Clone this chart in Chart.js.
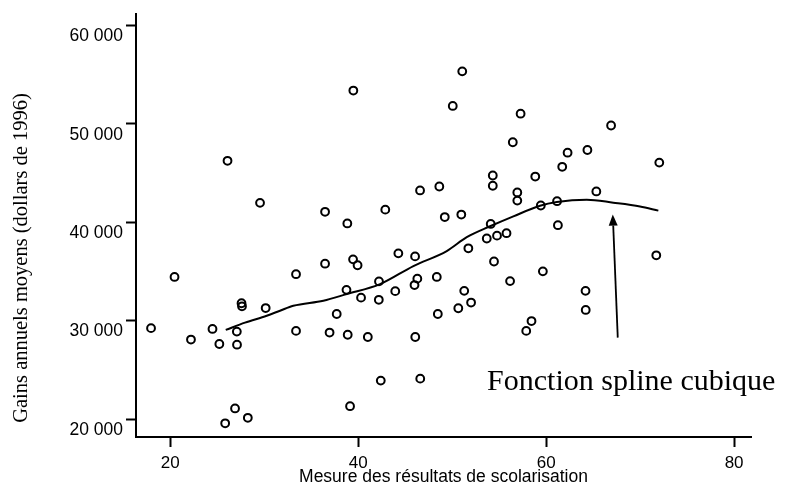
<!DOCTYPE html>
<html>
<head>
<meta charset="utf-8">
<script src="https://cdn.jsdelivr.net/npm/chart.js@4.4.1/dist/chart.umd.min.js"></script>
<style>
html,body{margin:0;padding:0;background:#fff;}
#wrap{width:785px;height:489px;}
</style>
</head>
<body>
<div id="wrap"><canvas id="c" width="785" height="489"></canvas></div>
<script>
// ---- data ----
const schooling = [17.95,20.45,22.2,24.49,25.22,27.08,27.1,27.58,27.63,30.15,
  33.38,33.38,36.47,36.95,25.84,26.89,28.25,26.09,29.55,36.47,
  39.48,51.07,50.06,38.84,42.88,46.58,48.63,49.21,50.97,54.32,
  54.32,54.10,53.68,54.77,55.78,56.45,57.28,66.91,62.28,64.39,
  61.71,58.84,72.04,56.93,56.93,65.34,59.43,61.16,61.25,51.72,
  39.45,39.93,44.27,46.05,54.45,56.16,38.75,42.21,40.30,42.19,
  43.94,46.29,45.99,48.36,51.28,52.01,50.65,48.47,37.71,38.88,
  41.02,46.07,42.40,46.60,39.13,59.65,64.19,64.21,58.44,57.88,71.72];
const earnings = [29240,34440,28080,29160,27630,28890,27560,31770,31460,31280,
  34720,28960,35790,28790,19570,21080,20130,46240,41970,41060,
  53380,55330,51820,39880,41280,43230,43630,40530,40780,44750,
  43710,39830,38350,38640,38890,48130,51030,49830,47070,47340,
  45630,44640,46060,43030,42200,43130,41700,42140,39700,37350,
  36230,35630,36840,36530,36010,34020,33130,33990,32340,32120,
  33000,34270,33620,34440,33030,31840,31260,30680,30680,28570,
  28340,28340,23910,24110,21310,35010,33030,31090,29960,28960,36640];
const splineX = [25.9,27.95,30.26,31.68,33.09,36.29,38.78,42.32,45.87,49.42,
  51.55,54.03,56.51,59.35,61.13,64.32,67.15,69.99,71.94];
const splineY = [29060,29800,30500,31010,31510,32020,32700,33710,35550,37070,
  38480,39590,40600,41670,42050,42290,41990,41610,41180];
const xTickValues = [20,40,60,80];
const yTickValues = [20000,30000,40000,50000,60000];
const yTickLabels = ['20 000','30 000','40 000','50 000','60 000'];
const xAxisTitle = 'Mesure des résultats de scolarisation';
const yAxisTitle = 'Gains annuels moyens (dollars de 1996)';
const annotationText = 'Fonction spline cubique';
const arrowFrom = [67.62, 28280];
const arrowTo = [67.09, 40780];
const annotationAnchor = [53.71, 22930];

const SANS = '"Liberation Sans", Arial, sans-serif';
const SERIF = '"Liberation Serif", "Times New Roman", serif';

const annot = {
  id: 'annot',
  afterDraw(chart) {
    const ctx = chart.ctx;
    const xs = chart.scales.x, ys = chart.scales.y;
    ctx.save();
    // arrow
    const x1 = xs.getPixelForValue(arrowFrom[0]), y1 = ys.getPixelForValue(arrowFrom[1]);
    const x2 = xs.getPixelForValue(arrowTo[0]), y2 = ys.getPixelForValue(arrowTo[1]);
    const ang = Math.atan2(y2 - y1, x2 - x1);
    const headLen = 11, headW = 4.5;
    const bx = x2 - headLen * Math.cos(ang), by = y2 - headLen * Math.sin(ang);
    ctx.strokeStyle = '#000';
    ctx.lineWidth = 1.8;
    ctx.beginPath(); ctx.moveTo(x1, y1); ctx.lineTo(bx, by); ctx.stroke();
    ctx.beginPath();
    ctx.moveTo(x2, y2);
    ctx.lineTo(bx + headW * Math.sin(ang), by - headW * Math.cos(ang));
    ctx.lineTo(bx - headW * Math.sin(ang), by + headW * Math.cos(ang));
    ctx.closePath();
    ctx.fillStyle = '#000';
    ctx.fill();
    // annotation text
    ctx.font = '30px ' + SERIF;
    ctx.textAlign = 'left';
    ctx.textBaseline = 'alphabetic';
    ctx.fillText(annotationText, xs.getPixelForValue(annotationAnchor[0]), ys.getPixelForValue(annotationAnchor[1]));
    // y axis title
    ctx.translate(26.5, 258);
    ctx.rotate(-Math.PI / 2);
    ctx.font = '20.5px ' + SERIF;
    ctx.textAlign = 'center';
    ctx.fillText(yAxisTitle, 0, 0);
    ctx.restore();
  }
};

new Chart(document.getElementById('c'), {
  type: 'scatter',
  data: {
    datasets: [
      {
        type: 'line',
        data: splineX.map((v, i) => ({x: v, y: splineY[i]})),
        borderColor: '#000',
        borderWidth: 2,
        pointRadius: 0,
        fill: false,
        cubicInterpolationMode: 'monotone'
      },
      {
        type: 'scatter',
        data: schooling.map((v, i) => ({x: v, y: earnings[i]})),
        pointStyle: 'circle',
        pointRadius: 3.9,
        borderColor: '#000',
        borderWidth: 2,
        backgroundColor: 'rgba(0,0,0,0)'
      }
    ]
  },
  options: {
    responsive: false,
    animation: false,
    devicePixelRatio: 1,
    layout: {padding: {top: 11, right: 34, left: 0, bottom: 0}},
    plugins: {legend: {display: false}, tooltip: {enabled: false}},
    scales: {
      x: {
        type: 'linear',
        min: 16.35, max: 81.8,
        afterFit(s) { s.height = 52; },
        afterBuildTicks(s) { s.ticks = xTickValues.map(v => ({value: v})); },
        grid: {display: true, drawOnChartArea: false, drawTicks: true, tickLength: 10, tickWidth: 2, tickColor: '#000', color: '#000'},
        border: {display: true, color: '#000', width: 2},
        ticks: {color: '#000', font: {family: SANS, size: 17}, padding: 6, maxRotation: 0, autoSkip: false},
        title: {display: true, text: xAxisTitle, color: '#000', font: {family: SANS, size: 17.5}, padding: {top: 0, bottom: 1}}
      },
      y: {
        type: 'linear',
        min: 18180, max: 61210,
        afterFit(s) { s.width = 136; },
        afterBuildTicks(s) { s.ticks = yTickValues.map(v => ({value: v})); },
        grid: {display: true, drawOnChartArea: false, drawTicks: true, tickLength: 10, tickWidth: 2, tickColor: '#000', color: '#000'},
        border: {display: true, color: '#000', width: 2},
        ticks: {
          color: '#000', font: {family: SANS, size: 17.5}, padding: 3, labelOffset: 11, autoSkip: false,
          callback: (v) => yTickLabels[yTickValues.indexOf(v)]
        }
      }
    }
  },
  plugins: [annot]
});
</script>
</body>
</html>
